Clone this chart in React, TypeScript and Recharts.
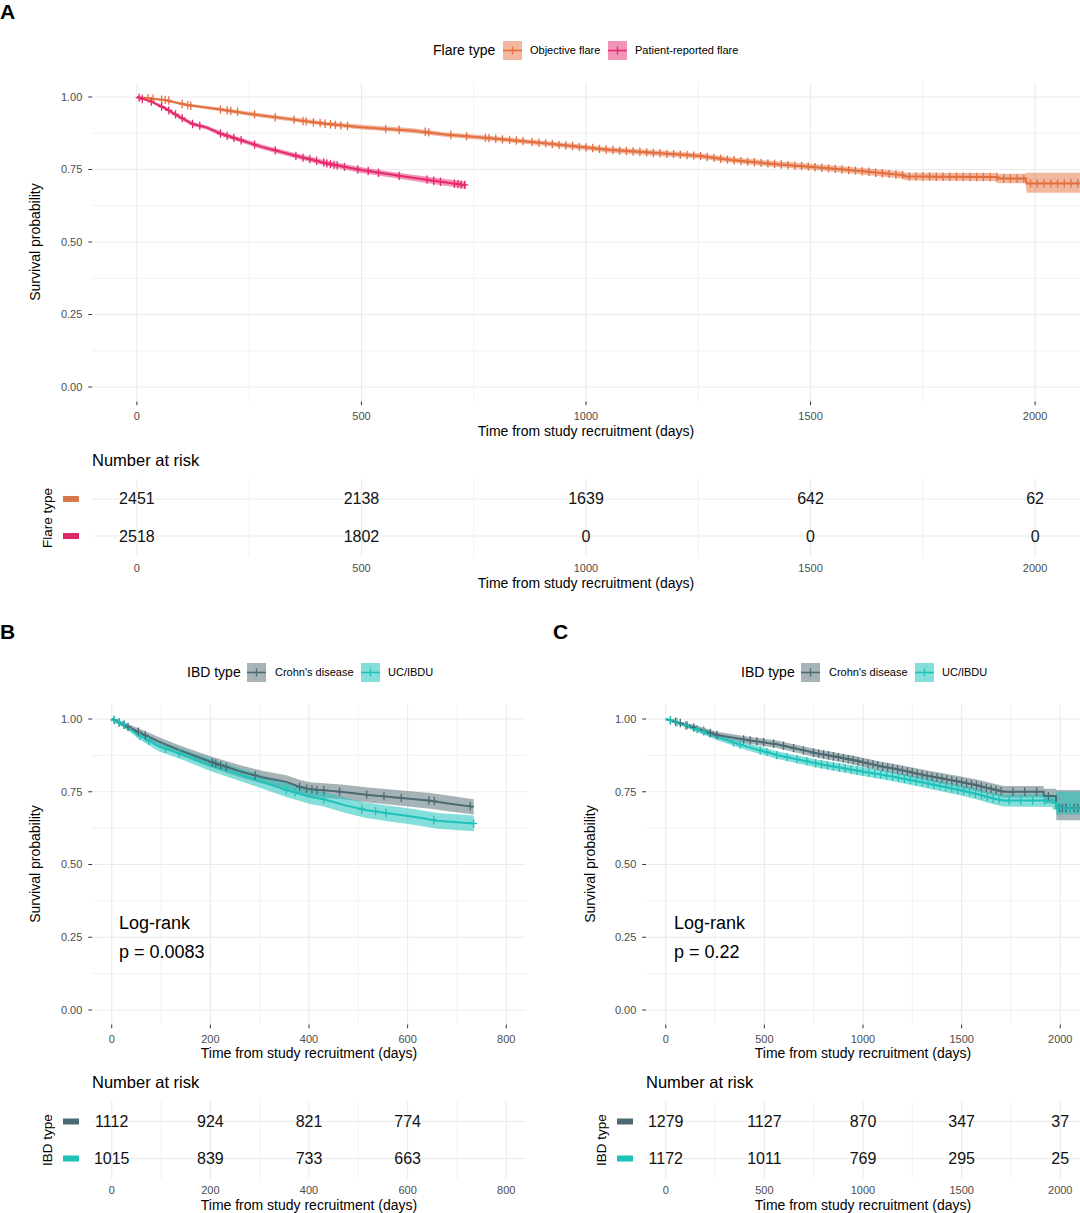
import React from 'react';
import { ComposedChart, Area, Line, Scatter, XAxis, YAxis, CartesianGrid } from 'recharts';

const FONT = '"Liberation Sans", Arial, Helvetica, sans-serif';

const C_OBJ = '#E36F3F';
const C_PAT = '#E52A6F';
const C_CD = '#4D6A72';
const C_UC = '#1FC2B9';

type Row = [number, number, number, number];
type Pt = [number, number];

// ---------- Panel A: flare type ----------
const objectiveCurve: Row[] = [
  [0, 1.0, 1.0, 1.0], [60, 0.99, 0.986, 0.994], [110, 0.973, 0.968, 0.978], [190, 0.956, 0.95, 0.962],
  [260, 0.94, 0.933, 0.947], [350, 0.922, 0.915, 0.929], [420, 0.908, 0.901, 0.915], [500, 0.896, 0.888, 0.904],
  [615, 0.884, 0.876, 0.892], [690, 0.87, 0.862, 0.878], [770, 0.86, 0.852, 0.868], [898, 0.842, 0.834, 0.85],
  [1051, 0.818, 0.809, 0.827], [1250, 0.797, 0.788, 0.806], [1327, 0.782, 0.773, 0.791], [1404, 0.771, 0.761, 0.781],
  [1511, 0.758, 0.748, 0.768], [1588, 0.748, 0.737, 0.759], [1703, 0.731, 0.719, 0.743], [1711, 0.726, 0.713, 0.739],
  [1910, 0.724, 0.71, 0.738], [1918, 0.719, 0.703, 0.735], [1979, 0.719, 0.703, 0.735], [1981, 0.702, 0.67, 0.739],
  [2100, 0.702, 0.67, 0.739],
];
const patientCurve: Row[] = [
  [0, 1.0, 1.0, 1.0], [32, 0.984, 0.979, 0.989], [63, 0.961, 0.955, 0.967], [94, 0.932, 0.925, 0.939],
  [124, 0.907, 0.9, 0.914], [155, 0.895, 0.888, 0.902], [186, 0.874, 0.866, 0.882], [232, 0.851, 0.843, 0.859],
  [278, 0.828, 0.82, 0.836], [347, 0.8, 0.791, 0.809], [423, 0.771, 0.762, 0.78], [500, 0.748, 0.738, 0.758],
  [577, 0.73, 0.72, 0.74], [653, 0.713, 0.702, 0.724], [733, 0.696, 0.684, 0.708],
];
const objectiveCensor: Pt[] = [
  [25, 0.996], [36, 0.994], [55, 0.991], [63, 0.99], [71, 0.988], [101, 0.976], [113, 0.972], [120, 0.97],
  [186, 0.957], [201, 0.954], [209, 0.952], [224, 0.949], [262, 0.94], [308, 0.93], [350, 0.922], [370, 0.917],
  [377, 0.916], [393, 0.912], [408, 0.91], [419, 0.908], [431, 0.906], [442, 0.904], [454, 0.902], [469, 0.9],
  [554, 0.89], [584, 0.887], [642, 0.88], [650, 0.878], [699, 0.869], [734, 0.865], [776, 0.859], [784, 0.858],
  [799, 0.856], [814, 0.854], [830, 0.852], [845, 0.85], [860, 0.848],
  [880, 0.845], [895, 0.842], [910, 0.84], [925, 0.838], [940, 0.835], [955, 0.833], [970, 0.831], [985, 0.828],
  [1000, 0.826], [1015, 0.824], [1030, 0.821], [1045, 0.819], [1060, 0.817], [1075, 0.815], [1090, 0.814],
  [1105, 0.812], [1120, 0.811], [1135, 0.809], [1150, 0.807], [1165, 0.806], [1180, 0.804], [1195, 0.803],
  [1210, 0.801], [1225, 0.8], [1240, 0.798], [1255, 0.796], [1270, 0.793], [1285, 0.79], [1300, 0.787],
  [1315, 0.784], [1330, 0.782], [1345, 0.779], [1360, 0.777], [1375, 0.775], [1390, 0.773], [1405, 0.771],
  [1420, 0.769], [1435, 0.767], [1450, 0.765], [1465, 0.763], [1480, 0.762], [1495, 0.76], [1510, 0.758],
  [1525, 0.756], [1540, 0.754], [1555, 0.752], [1570, 0.75], [1585, 0.748], [1600, 0.746], [1615, 0.744],
  [1630, 0.742], [1645, 0.739], [1660, 0.737], [1675, 0.735], [1690, 0.733], [1705, 0.731], [1720, 0.726],
  [1735, 0.726], [1750, 0.726], [1765, 0.726], [1780, 0.725], [1795, 0.725], [1810, 0.725], [1825, 0.725],
  [1840, 0.725], [1855, 0.724], [1870, 0.724], [1885, 0.724], [1900, 0.724], [1915, 0.724], [1930, 0.719],
  [1945, 0.719], [1960, 0.719], [1975, 0.719], [1990, 0.702], [2005, 0.702], [2020, 0.702], [2035, 0.702],
  [2050, 0.702], [2065, 0.702], [2080, 0.702], [2095, 0.702],
];
const patientCensor: Pt[] = [
  [5, 0.998], [12, 0.993], [32, 0.984], [55, 0.967], [71, 0.954], [86, 0.94], [101, 0.927], [124, 0.907],
  [140, 0.901], [186, 0.874], [201, 0.866], [216, 0.859], [232, 0.851], [262, 0.836], [308, 0.816], [354, 0.797],
  [370, 0.791], [385, 0.786], [400, 0.78], [416, 0.774], [423, 0.771], [431, 0.769], [439, 0.766], [446, 0.764],
  [462, 0.759], [492, 0.75], [515, 0.745], [538, 0.739], [584, 0.728], [646, 0.715], [661, 0.711], [676, 0.708],
  [707, 0.701], [715, 0.7], [722, 0.698], [730, 0.697],
];
const riskATimes = [0, 500, 1000, 1500, 2000];
const riskObjective = [2451, 2138, 1639, 642, 62];
const riskPatient = [2518, 1802, 0, 0, 0];

// ---------- Panel B: IBD type, 0-800 days ----------
const crohnCurveB: Row[] = [
  [0, 1, 1, 1], [26, 0.979, 0.97, 0.988], [54, 0.956, 0.944, 0.968], [96, 0.922, 0.907, 0.937],
  [137, 0.893, 0.876, 0.91], [200, 0.853, 0.834, 0.872], [263, 0.819, 0.798, 0.84], [305, 0.8, 0.778, 0.822],
  [354, 0.784, 0.761, 0.807], [381, 0.767, 0.743, 0.791], [402, 0.759, 0.735, 0.783], [465, 0.75, 0.725, 0.775],
  [521, 0.739, 0.713, 0.765], [577, 0.73, 0.704, 0.756], [646, 0.719, 0.692, 0.746], [682, 0.71, 0.683, 0.737],
  [734, 0.698, 0.672, 0.724],
];
const ucCurveB: Row[] = [
  [0, 1, 1, 1], [26, 0.979, 0.97, 0.988], [54, 0.945, 0.932, 0.958], [96, 0.905, 0.888, 0.922],
  [137, 0.882, 0.864, 0.9], [200, 0.842, 0.821, 0.863], [263, 0.807, 0.785, 0.829], [305, 0.784, 0.761, 0.807],
  [354, 0.756, 0.732, 0.78], [402, 0.733, 0.708, 0.758], [430, 0.724, 0.699, 0.749], [472, 0.704, 0.678, 0.73],
  [514, 0.687, 0.661, 0.713], [563, 0.675, 0.648, 0.702], [612, 0.664, 0.637, 0.691], [660, 0.65, 0.623, 0.677],
  [734, 0.641, 0.614, 0.668],
];
const crohnCensorB: Pt[] = [
  [5, 0.997], [15, 0.988], [25, 0.98], [33, 0.973], [54, 0.956], [68, 0.944], [204, 0.851], [211, 0.847],
  [221, 0.841], [232, 0.836], [291, 0.806], [381, 0.767], [395, 0.761], [406, 0.758], [416, 0.756], [430, 0.755],
  [462, 0.75], [517, 0.74], [552, 0.734], [587, 0.729], [643, 0.72], [654, 0.718], [727, 0.7],
];
const ucCensorB: Pt[] = [
  [5, 0.996], [15, 0.988], [25, 0.98], [57, 0.942], [75, 0.925], [109, 0.898], [137, 0.882], [354, 0.756],
  [371, 0.748], [430, 0.724], [507, 0.69], [535, 0.683], [556, 0.677], [653, 0.652], [734, 0.641],
];
const riskBTimes = [0, 200, 400, 600];
const riskBCrohn = [1112, 924, 821, 774];
const riskBUC = [1015, 839, 733, 663];

// ---------- Panel C: IBD type, 0-2000 days ----------
const crohnCurveC: Row[] = [
  [0, 1, 1, 1], [142, 0.971, 0.962, 0.98], [260, 0.945, 0.934, 0.956], [412, 0.928, 0.916, 0.94],
  [563, 0.913, 0.9, 0.926], [766, 0.882, 0.868, 0.896], [951, 0.859, 0.844, 0.874], [1086, 0.838, 0.822, 0.854],
  [1154, 0.83, 0.814, 0.846], [1340, 0.803, 0.785, 0.821], [1491, 0.784, 0.765, 0.803], [1577, 0.772, 0.752, 0.792],
  [1712, 0.75, 0.73, 0.77], [1915, 0.75, 0.73, 0.77], [1917, 0.735, 0.71, 0.76], [1978, 0.735, 0.71, 0.76],
  [1980, 0.694, 0.652, 0.756], [2100, 0.694, 0.652, 0.756],
];
const ucCurveC: Row[] = [
  [0, 1, 1, 1], [142, 0.968, 0.96, 0.976], [260, 0.937, 0.927, 0.947], [412, 0.905, 0.893, 0.917],
  [563, 0.876, 0.863, 0.889], [766, 0.847, 0.833, 0.861], [951, 0.825, 0.81, 0.84], [1154, 0.802, 0.786, 0.818],
  [1330, 0.778, 0.761, 0.795], [1491, 0.756, 0.738, 0.774], [1577, 0.742, 0.723, 0.761], [1660, 0.727, 0.707, 0.747],
  [1712, 0.72, 0.699, 0.741], [1960, 0.72, 0.698, 0.742], [1963, 0.712, 0.688, 0.736], [1978, 0.712, 0.688, 0.736],
  [1980, 0.694, 0.672, 0.75], [2100, 0.694, 0.672, 0.75],
];
const crohnCensorC: Pt[] = [
  [24, 0.996], [49, 0.991], [74, 0.986], [108, 0.978], [142, 0.971], [192, 0.96], [226, 0.952], [260, 0.945],
  [395, 0.93], [428, 0.926], [462, 0.923], [496, 0.92], [547, 0.915], [597, 0.908], [648, 0.9], [698, 0.892],
  [749, 0.884], [775, 0.881], [800, 0.878], [825, 0.875], [850, 0.872], [875, 0.869], [900, 0.865], [925, 0.862],
  [950, 0.859], [975, 0.855], [1000, 0.851], [1025, 0.847], [1050, 0.844], [1075, 0.84], [1100, 0.836],
  [1125, 0.833], [1150, 0.83], [1175, 0.827], [1200, 0.823], [1225, 0.82], [1250, 0.816], [1275, 0.812],
  [1300, 0.809], [1325, 0.805], [1350, 0.802], [1375, 0.799], [1400, 0.796], [1425, 0.792], [1450, 0.789],
  [1475, 0.786], [1500, 0.783], [1525, 0.779], [1550, 0.776], [1575, 0.772], [1600, 0.768], [1625, 0.764],
  [1650, 0.76], [1675, 0.756], [1700, 0.752], [1760, 0.75], [1820, 0.75], [1880, 0.75], [1940, 0.735],
  [1995, 0.694], [2010, 0.694], [2030, 0.694], [2050, 0.694], [2070, 0.694], [2090, 0.694],
];
const ucCensorC: Pt[] = [
  [24, 0.995], [57, 0.989], [100, 0.978], [159, 0.965], [192, 0.958], [344, 0.919], [378, 0.912], [479, 0.892],
  [513, 0.886], [563, 0.876], [614, 0.869], [665, 0.862], [715, 0.855], [760, 0.848], [790, 0.844], [820, 0.84],
  [850, 0.837], [880, 0.833], [910, 0.83], [940, 0.826], [970, 0.823], [1000, 0.819], [1030, 0.816], [1060, 0.812],
  [1090, 0.809], [1120, 0.805], [1150, 0.802], [1180, 0.798], [1210, 0.794], [1240, 0.79], [1270, 0.786],
  [1300, 0.782], [1330, 0.778], [1360, 0.774], [1390, 0.77], [1420, 0.766], [1450, 0.761], [1480, 0.757],
  [1510, 0.753], [1540, 0.748], [1570, 0.743], [1600, 0.738], [1630, 0.732], [1660, 0.727], [1690, 0.723],
  [1740, 0.72], [1800, 0.72], [1860, 0.72], [1920, 0.72], [1990, 0.694], [2020, 0.694], [2050, 0.694], [2080, 0.694],
];
const riskCTimes = [0, 500, 1000, 1500, 2000];
const riskCCrohn = [1279, 1127, 870, 347, 37];
const riskCUC = [1172, 1011, 769, 295, 25];

// ---------- axis ticks ----------
const yTicks = [0, 0.25, 0.5, 0.75, 1];
const yMinor = [0.125, 0.375, 0.625, 0.875];
const xTicksLong = [0, 500, 1000, 1500, 2000];
const xMinorLong = [250, 750, 1250, 1750];
const xTicksShort = [0, 200, 400, 600, 800];
const xMinorShort = [100, 300, 500, 700];

const toRows = (a: Row[]) => a.map(([t, s, lo, hi]) => ({ t, s, band: [lo, hi] }));
const toPts = (a: Pt[]) => a.map(([t, s]) => ({ t, s }));

const plusShape = (color: string) => (p: any) => {
  const { cx, cy } = p;
  if (cx == null || cy == null) return <g />;
  return (
    <g>
      <line x1={cx} y1={cy - 4.2} x2={cx} y2={cy + 4.2} stroke={color} strokeWidth={1.3} />
      <line x1={cx - 3.5} y1={cy} x2={cx + 3.5} y2={cy} stroke={color} strokeWidth={1.3} />
    </g>
  );
};

interface Series { color: string; curve: Row[]; censor: Pt[]; op: number }

function KM(props: any) {
  const { left, top, width, height, plotLeft, plotTop, plotBottom, plotRight, xDomain, xTicks, xMinor, series } = props;
  return (
    <div style={{ position: 'absolute', left, top }}>
      <ComposedChart
        width={width}
        height={height}
        margin={{ top: plotTop - top, right: left + width - plotRight, bottom: 0, left: 0 }}
      >
        <CartesianGrid verticalValues={xMinor} horizontalValues={yMinor} stroke="#EDEDED" strokeWidth={0.8} />
        <CartesianGrid verticalValues={xTicks} horizontalValues={yTicks} stroke="#EBEBEB" strokeWidth={1.1} />
        <XAxis
          type="number" dataKey="t" domain={xDomain} ticks={xTicks} interval={0} allowDataOverflow
          axisLine={false} tickLine={{ stroke: '#333' }} tickSize={3.7} tickMargin={6.5}
          height={top + height - plotBottom} tick={{ fontSize: 11, fill: '#4D4D4D' }}
        />
        <YAxis
          type="number" domain={[-0.05, 1.05]} ticks={yTicks} interval={0} allowDataOverflow
          axisLine={false} tickLine={{ stroke: '#333' }} tickSize={3.7} tickMargin={6}
          width={plotLeft - left} tick={{ fontSize: 11, fill: '#4D4D4D' }}
          tickFormatter={(v: number) => v.toFixed(2)}
        />
        {series.map((s: Series, i: number) => (
          <Area key={'a' + i} data={toRows(s.curve)} dataKey="band" type="linear" stroke="none"
            fill={s.color} fillOpacity={s.op} isAnimationActive={false} />
        ))}
        {series.map((s: Series, i: number) => (
          <Line key={'l' + i} data={toRows(s.curve)} dataKey="s" type="linear" stroke={s.color}
            strokeWidth={2} dot={false} activeDot={false} isAnimationActive={false} />
        ))}
        {series.map((s: Series, i: number) => (
          <Scatter key={'c' + i} data={toPts(s.censor)} dataKey="s" shape={plusShape(s.color)}
            isAnimationActive={false} />
        ))}
      </ComposedChart>
    </div>
  );
}

function Risk(props: any) {
  const { left, top, width, height, plotLeft, plotTop, plotBottom, plotRight, xDomain, xTicks, xMinor, times, topRow, bottomRow, colors } = props;
  const rows = [
    ...times.map((t: number, i: number) => ({ t, row: 2, n: topRow[i] })),
    ...times.map((t: number, i: number) => ({ t, row: 1, n: bottomRow[i] })),
  ];
  const keyTick = (p: any) => {
    const { x, y, payload } = p;
    const c = payload.value === 2 ? colors[0] : colors[1];
    return <rect x={x - 29} y={y - 3} width={16} height={6} fill={c} />;
  };
  const numShape = (p: any) => {
    if (p.cx == null) return <g />;
    return (
      <text x={p.cx} y={p.cy} textAnchor="middle" dominantBaseline="central" fontSize={16} fill="#111">
        {p.payload.n}
      </text>
    );
  };
  return (
    <div style={{ position: 'absolute', left, top }}>
      <ComposedChart
        width={width}
        height={height}
        margin={{ top: plotTop - top, right: left + width - plotRight, bottom: 0, left: 0 }}
      >
        <CartesianGrid verticalValues={xMinor} horizontal={false} stroke="#EDEDED" strokeWidth={0.8} />
        <CartesianGrid verticalValues={xTicks} horizontalValues={[1, 2]} stroke="#EBEBEB" strokeWidth={1.1} />
        <XAxis
          type="number" dataKey="t" domain={xDomain} ticks={xTicks} interval={0} allowDataOverflow
          axisLine={false} tickLine={false} tickSize={0} tickMargin={7.7}
          height={top + height - plotBottom} tick={{ fontSize: 11, fill: '#4D4D4D' }}
        />
        <YAxis
          type="number" domain={[0.45, 2.55]} ticks={[1, 2]} interval={0} allowDataOverflow
          axisLine={false} tickLine={false} tickSize={0} tickMargin={0}
          width={plotLeft - left} tick={keyTick}
        />
        <Scatter data={rows} dataKey="row" shape={numShape} isAnimationActive={false} />
      </ComposedChart>
    </div>
  );
}

function Txt(props: any) {
  const { x, y, fs, children, align = 'left', bold = false, color = '#000', rotate = false } = props;
  const tx = align === 'center' ? '-50%' : align === 'right' ? '-100%' : '0';
  return (
    <div
      style={{
        position: 'absolute', left: x, top: y, fontSize: fs, lineHeight: 1, whiteSpace: 'nowrap',
        color, fontWeight: bold ? 700 : 400,
        transform: rotate ? 'translate(-50%,-50%) rotate(-90deg)' : `translate(${tx},-50%)`,
      }}
    >
      {children}
    </div>
  );
}

function Key(props: any) {
  const { x, cy, color, op } = props;
  return (
    <svg style={{ position: 'absolute', left: x, top: cy - 9.5 }} width={19} height={19}>
      <rect width={19} height={19} fill={color} fillOpacity={op} />
      <line x1={0} y1={9.5} x2={19} y2={9.5} stroke={color} strokeWidth={1.6} />
      <line x1={9.5} y1={5.5} x2={9.5} y2={13.5} stroke={color} strokeWidth={1.3} />
    </svg>
  );
}

const XTITLE = 'Time from study recruitment (days)';

export default function App() {
  const seriesA: Series[] = [
    { color: C_OBJ, curve: objectiveCurve, censor: objectiveCensor, op: 0.5 },
    { color: C_PAT, curve: patientCurve, censor: patientCensor, op: 0.5 },
  ];
  const seriesB: Series[] = [
    { color: C_CD, curve: crohnCurveB, censor: crohnCensorB, op: 0.5 },
    { color: C_UC, curve: ucCurveB, censor: ucCensorB, op: 0.55 },
  ];
  const seriesC: Series[] = [
    { color: C_CD, curve: crohnCurveC, censor: crohnCensorC, op: 0.5 },
    { color: C_UC, curve: ucCurveC, censor: ucCensorC, op: 0.55 },
  ];
  return (
    <div style={{ position: 'absolute', left: 0, top: 0, width: 1080, height: 1213, overflow: 'hidden', background: '#fff', fontFamily: FONT }}>
      {/* Panel A */}
      <Txt x={0} y={11} fs={21} bold>A</Txt>
      <Txt x={433} y={50} fs={14}>Flare type</Txt>
      <Key x={503} cy={50} color={C_OBJ} op={0.5} />
      <Txt x={530} y={50} fs={11}>Objective flare</Txt>
      <Key x={608} cy={50} color={C_PAT} op={0.5} />
      <Txt x={635} y={50} fs={11}>Patient-reported flare</Txt>
      <KM left={0} top={0} width={1080} height={440} plotLeft={92} plotTop={82.5} plotBottom={401.5} plotRight={1080}
        xDomain={[-100, 2100]} xTicks={xTicksLong} xMinor={xMinorLong} series={seriesA} />
      <Txt x={35} y={242} fs={14} rotate>Survival probability</Txt>
      <Txt x={586} y={431} fs={14} align="center">{XTITLE}</Txt>
      <Txt x={92} y={460} fs={16.5}>Number at risk</Txt>
      <Risk left={0} top={440} width={1080} height={160} plotLeft={92} plotTop={478.6} plotBottom={556.4} plotRight={1080}
        xDomain={[-100, 2100]} xTicks={xTicksLong} xMinor={xMinorLong} times={riskATimes}
        topRow={riskObjective} bottomRow={riskPatient} colors={['#D9774C', '#DD2A66']} />
      <Txt x={48} y={518} fs={13.5} rotate>Flare type</Txt>
      <Txt x={586} y={583} fs={14} align="center">{XTITLE}</Txt>

      {/* Panel B */}
      <Txt x={0} y={631} fs={21} bold>B</Txt>
      <Txt x={187} y={672} fs={14}>IBD type</Txt>
      <Key x={247} cy={672} color={C_CD} op={0.5} />
      <Txt x={275} y={672} fs={11}>Crohn's disease</Txt>
      <Key x={361} cy={672} color={C_UC} op={0.55} />
      <Txt x={388} y={672} fs={11}>UC/IBDU</Txt>
      <KM left={0} top={600} width={540} height={463} plotLeft={92} plotTop={704.45} plotBottom={1024.55} plotRight={526}
        xDomain={[-40, 840]} xTicks={xTicksShort} xMinor={xMinorShort} series={seriesB} />
      <Txt x={35} y={864} fs={14} rotate>Survival probability</Txt>
      <Txt x={309} y={1053} fs={14} align="center">{XTITLE}</Txt>
      <Txt x={119} y={923} fs={18}>Log-rank</Txt>
      <Txt x={119} y={952} fs={18}>p = 0.0083</Txt>
      <Txt x={92} y={1082} fs={16.5}>Number at risk</Txt>
      <Risk left={0} top={1063} width={540} height={150} plotLeft={92} plotTop={1101.15} plotBottom={1178.85} plotRight={526}
        xDomain={[-40, 840]} xTicks={xTicksShort} xMinor={xMinorShort} times={riskBTimes}
        topRow={riskBCrohn} bottomRow={riskBUC} colors={[C_CD, C_UC]} />
      <Txt x={48} y={1140} fs={13.5} rotate>IBD type</Txt>
      <Txt x={309} y={1205} fs={14} align="center">{XTITLE}</Txt>

      {/* Panel C */}
      <Txt x={553} y={631} fs={21} bold>C</Txt>
      <Txt x={741} y={672} fs={14}>IBD type</Txt>
      <Key x={801} cy={672} color={C_CD} op={0.5} />
      <Txt x={829} y={672} fs={11}>Crohn's disease</Txt>
      <Key x={915} cy={672} color={C_UC} op={0.55} />
      <Txt x={942} y={672} fs={11}>UC/IBDU</Txt>
      <KM left={550} top={600} width={530} height={463} plotLeft={646} plotTop={704.45} plotBottom={1024.55} plotRight={1080}
        xDomain={[-100, 2100]} xTicks={xTicksLong} xMinor={xMinorLong} series={seriesC} />
      <Txt x={590} y={864} fs={14} rotate>Survival probability</Txt>
      <Txt x={863} y={1053} fs={14} align="center">{XTITLE}</Txt>
      <Txt x={674} y={923} fs={18}>Log-rank</Txt>
      <Txt x={674} y={952} fs={18}>p = 0.22</Txt>
      <Txt x={646} y={1082} fs={16.5}>Number at risk</Txt>
      <Risk left={550} top={1063} width={530} height={150} plotLeft={646} plotTop={1101.15} plotBottom={1178.85} plotRight={1080}
        xDomain={[-100, 2100]} xTicks={xTicksLong} xMinor={xMinorLong} times={riskCTimes}
        topRow={riskCCrohn} bottomRow={riskCUC} colors={[C_CD, C_UC]} />
      <Txt x={602} y={1140} fs={13.5} rotate>IBD type</Txt>
      <Txt x={863} y={1205} fs={14} align="center">{XTITLE}</Txt>
    </div>
  );
}
